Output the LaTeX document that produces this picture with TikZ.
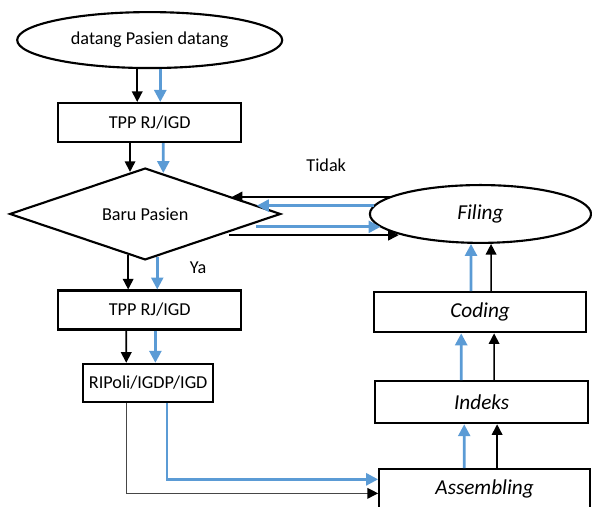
\documentclass[tikz,border=0pt]{standalone}
\usepackage{fontspec}
\setmainfont{Carlito}
\usepackage{tikz}
\usepackage{xcolor}
\usetikzlibrary{shapes.geometric, arrows.meta, positioning, calc}
\definecolor{flowblue}{RGB}{91,155,213}
\definecolor{linegray}{RGB}{70,70,70}

\begin{document}
\begin{tikzpicture}[
  every node/.style={font=\fontsize{13.7}{16}\selectfont},
  proc/.style={rectangle, draw, line width=1.6pt, fill=white, inner sep=0pt},
  oval/.style={ellipse, draw, line width=1.6pt, fill=white, inner sep=0pt},
  ital/.style={font=\fontsize{16}{19}\selectfont\itshape},
  blk/.style={draw=black, line width=1.2pt, -{Triangle[length=8pt,width=8pt]}},
  blu/.style={color=flowblue, line width=2pt, -{Triangle[length=9pt,width=9pt]}},
  thinblk/.style={draw=linegray, line width=0.9pt, -{Triangle[length=8pt,width=8pt,black]}}
]
\useasboundingbox (0,0) rectangle (15.66,-13.41);
\clip (0,0) rectangle (15.66,-13.41);

% left column
\node[oval, minimum width=7.01cm, minimum height=1.48cm] (start) at (3.96,-1.06) {datang Pasien datang};
\node[proc, minimum width=4.84cm, minimum height=1.03cm] (tpp1) at (3.96,-3.24) {TPP RJ/IGD};
\node[diamond, draw, line width=1.6pt, fill=white, aspect=2.9, inner sep=0pt, minimum width=7.17cm, minimum height=2.43cm] (baru) at (3.84,-5.66) {Baru Pasien};
\node[proc, minimum width=4.84cm, minimum height=1.03cm] (tpp2) at (3.96,-8.20) {TPP RJ/IGD};
\node[proc, minimum width=3.44cm, minimum height=1.01cm] (ripoli) at (3.92,-10.13) {RIPoli/IGDP/IGD};

% right column
\node[oval, ital, minimum width=5.85cm, minimum height=1.53cm] (filing) at (12.71,-5.66) {Filing};
\node[proc, ital, minimum width=5.61cm, minimum height=1.06cm] (coding) at (12.70,-8.26) {Coding};
\node[proc, ital, minimum width=5.64cm, minimum height=1.11cm] (indeks) at (12.74,-10.64) {Indeks};
\node[proc, ital, minimum width=5.58cm, minimum height=1.06cm] (assem) at (12.82,-12.94) {Assembling};

\node (tidak) at (8.63,-4.37) {Tidak};
\node (ya) at (5.24,-7.09) {Ya};

% down the left
\draw[blk] ([xshift=-0.33cm]start.south) -- ([xshift=-0.33cm]tpp1.north);
\draw[blu] ([xshift=0.28cm]start.south) -- ([xshift=0.28cm]tpp1.north);
\draw[blk] ([xshift=-0.52cm]tpp1.south) -- ([xshift=-0.40cm,yshift=-0.13cm]baru.north);
\draw[blu] ([xshift=0.36cm]tpp1.south) -- ([xshift=0.48cm,yshift=-0.16cm]baru.north);
\draw[blk] ([xshift=-0.45cm,yshift=0.15cm]baru.south) -- ([xshift=-0.57cm]tpp2.north);
\draw[blu] ([xshift=0.32cm,yshift=0.11cm]baru.south) -- ([xshift=0.20cm]tpp2.north);
\draw[blk] ([xshift=-0.62cm]tpp2.south) -- ([xshift=-0.58cm]ripoli.north);
\draw[blu] ([xshift=0.15cm]tpp2.south) -- ([xshift=0.19cm]ripoli.north);
\draw[thinblk] ([xshift=-0.58cm]ripoli.south) |- ([yshift=-0.11cm]assem.west);
\draw[blu] ([xshift=0.50cm]ripoli.south) |- ([yshift=0.26cm]assem.west);

% up the right
\draw[blu] ([xshift=-0.54cm]assem.north) -- ([xshift=-0.46cm]indeks.south);
\draw[blk] ([xshift=0.33cm]assem.north) -- ([xshift=0.41cm]indeks.south);
\draw[blu] ([xshift=-0.54cm]indeks.north) -- ([xshift=-0.50cm]coding.south);
\draw[blk] ([xshift=0.33cm]indeks.north) -- ([xshift=0.37cm]coding.south);
\draw[blu] ([xshift=-0.24cm]coding.north) -- ([xshift=-0.25cm]filing.south);
\draw[blk] ([xshift=0.29cm]coding.north) -- ([xshift=0.28cm]filing.south);

% between filing and the decision
\draw[blk] ([xshift=0.56cm,yshift=0.45cm]filing.west) -- ([xshift=-1.32cm,yshift=0.45cm]baru.east);
\draw[blu] ([xshift=0.13cm,yshift=0.22cm]filing.west) -- ([xshift=-0.66cm,yshift=0.22cm]baru.east);
\draw[blu] ([xshift=-0.67cm,yshift=-0.34cm]baru.east) -- ([xshift=0.31cm,yshift=-0.34cm]filing.west);
\draw[blk] ([xshift=-1.39cm,yshift=-0.56cm]baru.east) -- ([xshift=0.79cm,yshift=-0.56cm]filing.west);
\end{tikzpicture}
\end{document}
